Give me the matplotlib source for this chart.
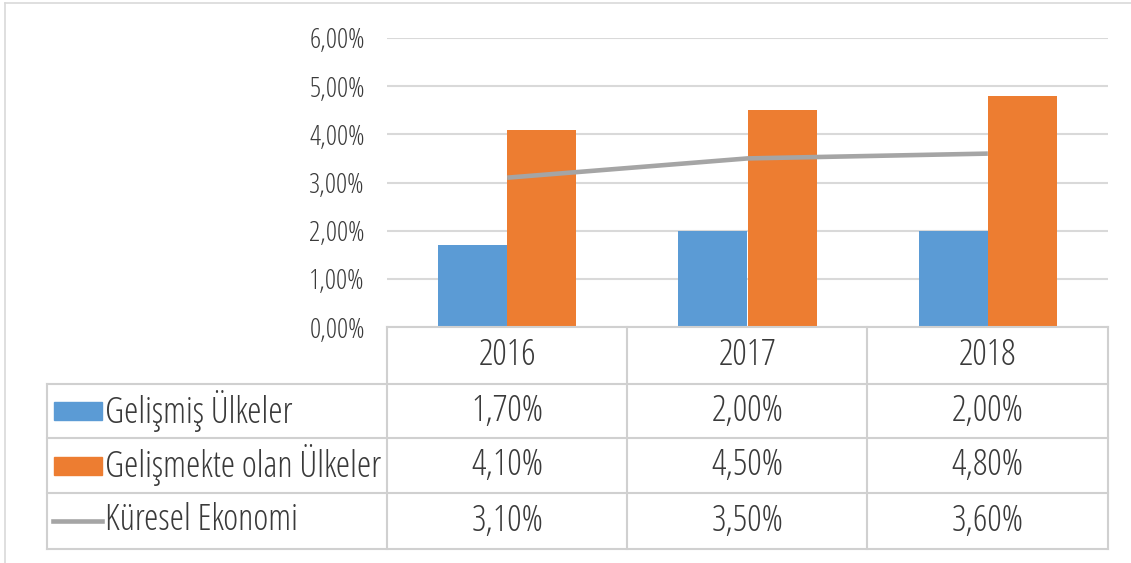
import matplotlib
matplotlib.use("Agg")
import matplotlib.pyplot as plt
from matplotlib.transforms import blended_transform_factory
from matplotlib.lines import Line2D
from matplotlib.patches import Rectangle

years = ["2016", "2017", "2018"]
gelismis = [1.70, 2.00, 2.00]
gelismekte = [4.10, 4.50, 4.80]
kuresel = [3.10, 3.50, 3.60]
series_names = ["Gelişmiş Ülkeler", "Gelişmekte olan Ülkeler", "Küresel Ekonomi"]

blue = "#5B9BD5"
orange = "#ED7D31"
gray = "#A5A5A5"
txt = "#3A3A3A"
grid = "#D9D9D9"

plt.rcParams['font.family'] = ['Open Sans', 'DejaVu Sans']
plt.rcParams['font.stretch'] = 'condensed'
plt.rcParams['font.weight'] = 'medium'

W, H = 1131, 563
fig = plt.figure(figsize=(W / 100, H / 100), dpi=100)

def fx(x):
    return x / W

def fy(y):
    return 1 - y / H

# plot area in pixels
left, right, top, bottom = 387, 1108, 38, 327
ax = fig.add_axes([fx(left), fy(bottom), fx(right - left), fy(top) - fy(bottom)])

x = list(range(len(years)))
bw = 0.2875
ax.bar([i - bw / 2 for i in x], gelismis, width=bw, color=blue, zorder=2)
ax.bar([i + bw / 2 for i in x], gelismekte, width=bw, color=orange, zorder=2)
ax.plot(x, kuresel, color=gray, lw=3.3, zorder=3, solid_capstyle='butt')

ax.set_xlim(-0.5, 2.5)
ax.set_ylim(0, 6)
ax.set_yticks(range(0, 7))
ax.set_yticklabels([f"{v},00%" for v in range(0, 7)], fontsize=20, color=txt)
ax.set_xticks([])
ax.tick_params(axis='y', length=0, pad=16)
ax.grid(axis='y', color=grid, lw=1.5, zorder=0)
for s in ax.spines.values():
    s.set_visible(False)

# outer frame (left and top)
fig.add_artist(Line2D([fx(5), fx(5)], [fy(3), fy(563)], color="#D9D9D9", lw=1.2))
fig.add_artist(Line2D([fx(5), fx(1131)], [fy(3), fy(3)], color="#D9D9D9", lw=1.2))

# data table
tline = "#D0D0D0"
row_edges = [327, 384, 438, 493, 549]
col_edges = [387, 627, 867, 1108]
fig.add_artist(Line2D([fx(387), fx(1108)], [fy(327), fy(327)], color=tline, lw=1.5))
for y in row_edges[1:]:
    fig.add_artist(Line2D([fx(47), fx(1108)], [fy(y), fy(y)], color=tline, lw=1.5))
for c in col_edges:
    fig.add_artist(Line2D([fx(c), fx(c)], [fy(327), fy(549)], color=tline, lw=1.5))
fig.add_artist(Line2D([fx(47), fx(47)], [fy(384), fy(549)], color=tline, lw=1.5))

trans = blended_transform_factory(ax.transData, fig.transFigure)
row_mid = [(row_edges[k] + row_edges[k + 1]) / 2 for k in range(4)]
for i, yr in enumerate(years):
    fig.text(i, fy(row_mid[0]), yr, transform=trans, ha='center', va='center',
             fontsize=26, color=txt)
for k, vals in enumerate([gelismis, gelismekte, kuresel]):
    for i, v in enumerate(vals):
        fig.text(i, fy(row_mid[k + 1]), f"{v:.2f}%".replace(".", ","), transform=trans,
                 ha='center', va='center', fontsize=26, color=txt)

# legend keys in table
for k, (name, col) in enumerate(zip(series_names, [blue, orange, gray])):
    yc = row_mid[k + 1]
    if k < 2:
        fig.add_artist(Rectangle((fx(54), fy(yc + 9)), fx(48), fy(yc - 9) - fy(yc + 9),
                                 color=col, transform=fig.transFigure))
    else:
        fig.add_artist(Line2D([fx(53), fx(102)], [fy(yc), fy(yc)], color=col, lw=3.3))
    fig.text(fx(105), fy(yc), name, ha='left', va='center', fontsize=26, color=txt)

fig.savefig("out.png", dpi=100)
